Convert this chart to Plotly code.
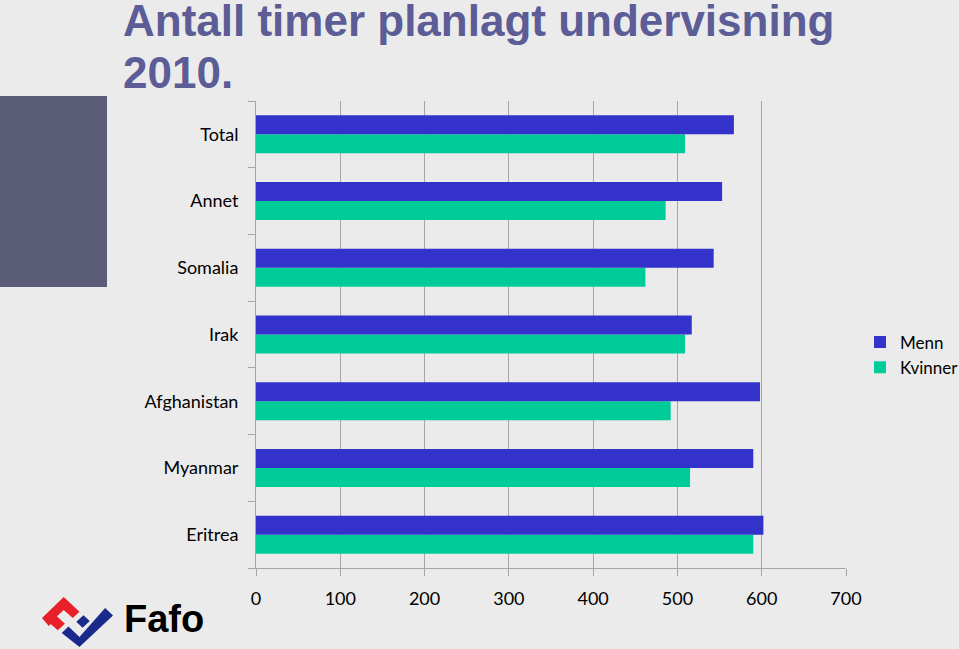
import plotly.graph_objects as go

countries = ["Eritrea", "Myanmar", "Afghanistan", "Irak", "Somalia", "Annet", "Total"]
menn = [602, 590, 598, 517, 543, 553, 567]
kvinner = [590, 515, 492, 509, 462, 486, 509]
x_ticks = [0, 100, 200, 300, 400, 500, 600, 700]

BG = "#ebebeb"
GRID = "#a6a6a6"
TITLE_COLOR = "#5c5c96"
LABEL_FONT = "Lato"

# plot area in pixels: x 256..846, y 101..568
L, R, T, B = 256, 846, 101, 568


def px_x(p):
    return (p - L) / (R - L)


def px_y(p):
    return (B - p) / (B - T)


fig = go.Figure()

fig.add_trace(go.Bar(
    y=countries, x=kvinner, name="Kvinner", orientation="h",
    marker_color="#00cc99", marker_line_width=0,
))
fig.add_trace(go.Bar(
    y=countries, x=menn, name="Menn", orientation="h",
    marker_color="#3333cc", marker_line_width=0,
))


# logo pieces, traced on a zoomed crop; fitted into the box x 42..113, y 597..647
def logo_path(points):
    pts = [(px_x(42 + (zx - 45) * 71 / 180), px_y(597 + (zy - 15) * 50 / 135))
           for zx, zy in points]
    return "M " + " L ".join(f"{x:.4f},{y:.4f}" for x, y in pts) + " Z"


red_pts = [(45, 72), (100, 15), (140, 55), (123, 72), (100, 50), (83, 67),
           (103, 87), (85, 105), (67, 88), (62, 93)]
blue_pts = [(95, 112), (112, 95), (140, 123), (205, 45), (225, 65), (140, 150)]
blue_sq = [(132, 82), (150, 64), (166, 80), (148, 98)]

shapes = [
    dict(type="rect", xref="paper", yref="paper",
         x0=px_x(0), x1=px_x(107), y0=px_y(287), y1=px_y(96),
         fillcolor="#5a5c78", line_width=0, layer="below"),
    dict(type="path", xref="paper", yref="paper", path=logo_path(red_pts),
         fillcolor="#e8202a", line_width=0),
    dict(type="path", xref="paper", yref="paper", path=logo_path(blue_pts),
         fillcolor="#1a2a8c", line_width=0),
    dict(type="path", xref="paper", yref="paper", path=logo_path(blue_sq),
         fillcolor="#1a2a8c", line_width=0),
]

title_font = dict(family="Liberation Sans", size=44, color=TITLE_COLOR)
annotations = [
    dict(text="<b>Antall timer planlagt undervisning</b>",
         xref="paper", yref="paper", x=px_x(121), y=px_y(-6),
         xanchor="left", yanchor="top", showarrow=False, font=title_font),
    dict(text="<b>2010.</b>",
         xref="paper", yref="paper", x=px_x(121), y=px_y(46),
         xanchor="left", yanchor="top", showarrow=False, font=title_font),
    dict(text="<b>Fafo</b>", xref="paper", yref="paper",
         x=px_x(122), y=px_y(619), xanchor="left", yanchor="middle",
         showarrow=False,
         font=dict(family="Liberation Sans", size=38, color="#000000")),
]

fig.update_layout(
    width=959,
    height=649,
    margin=dict(l=L, r=959 - R, t=T, b=649 - B, autoexpand=False),
    paper_bgcolor=BG,
    plot_bgcolor=BG,
    barmode="group",
    bargap=0.43,
    bargroupgap=0,
    shapes=shapes,
    annotations=annotations,
    legend=dict(
        x=px_x(860), y=px_y(355), xanchor="left", yanchor="middle",
        traceorder="reversed", bgcolor="rgba(0,0,0,0)",
        font=dict(family=LABEL_FONT, size=17, color="#000000"),
        itemwidth=30,
    ),
    xaxis=dict(
        range=[0, 700], tickvals=x_ticks, showgrid=True, gridcolor=GRID,
        gridwidth=1, zeroline=False, showline=True, linecolor=GRID,
        ticks="outside", ticklen=7, tickcolor=GRID, ticklabelstandoff=7,
        tickfont=dict(family=LABEL_FONT, size=18, color="#000000"),
        fixedrange=True,
    ),
    yaxis=dict(
        showgrid=False, showline=True, linecolor=GRID, ticks="outside",
        ticklen=7, tickcolor=GRID, tickson="boundaries",
        ticklabelstandoff=13,
        tickfont=dict(family=LABEL_FONT, size=18, color="#000000"),
        fixedrange=True,
    ),
)

fig.write_html(
    "out.html",
    config={"displayModeBar": False},
    post_script="document.body.style.margin='0';",
)
